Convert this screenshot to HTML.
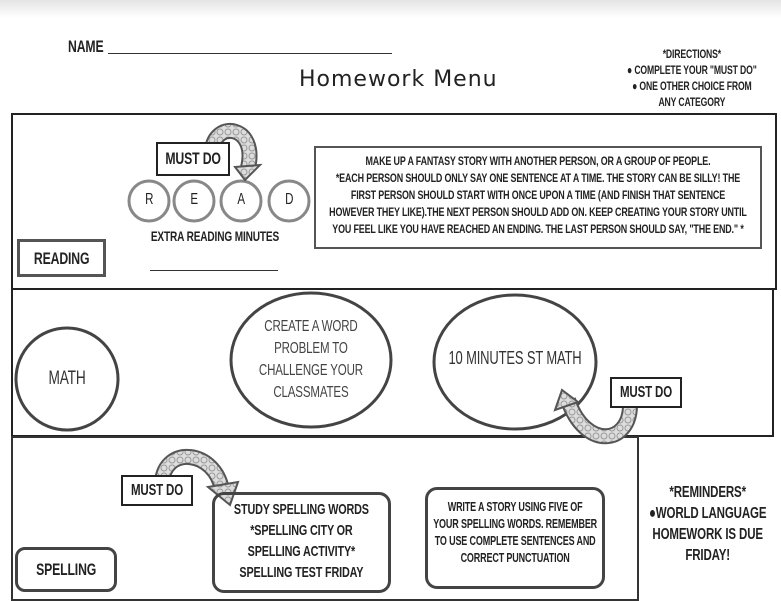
<!DOCTYPE html>
<html><head><meta charset="utf-8"><style>
body{margin:0;width:781px;height:601px;background:#fff;position:relative;overflow:hidden;font-family:"Liberation Sans",sans-serif;color:#222}
.a{position:absolute}
.t{position:absolute;text-align:center;font-weight:bold;text-transform:uppercase;letter-spacing:-0.2px;transform-origin:left top;transform:scaleX(0.72)}
.box{position:absolute;box-sizing:border-box}
</style></head><body>
<div class="a" style="left:0;top:0;width:781px;height:18px;background:linear-gradient(#e4e4e4,#fff)"></div>
<div class="t" style="left:68px;top:37px;font-size:17px;text-align:left">NAME</div>
<div class="a" style="left:108px;top:53px;width:284px;border-top:1px solid #333"></div>
<div class="a" style="left:299px;top:67px;font-family:'DejaVu Sans','Liberation Sans',sans-serif;font-size:22px;letter-spacing:1px;color:#222">Homework Menu</div>
<div class="t" style="left:622px;top:46px;width:194px;font-size:12px;line-height:16px">*DIRECTIONS*<br>● COMPLETE YOUR "MUST DO"<br>● ONE OTHER CHOICE FROM<br>ANY CATEGORY</div>

<div class="box" style="left:11px;top:113px;width:766px;height:177px;border:2px solid #222"></div>
<div class="box" style="left:11px;top:288px;width:763px;height:149px;border:2px solid #222"></div>
<div class="box" style="left:11px;top:436px;width:628px;height:165px;border:2px solid #333"></div>

<svg class="a" style="left:0;top:0" width="781" height="601">
<defs><pattern id="p" width="8" height="8" patternUnits="userSpaceOnUse"><rect width="8" height="8" fill="#ddd"/><circle cx="4" cy="4" r="3" fill="none" stroke="#999" stroke-width="1"/></pattern></defs>
<g fill="#fff" stroke="#888" stroke-width="3">
<circle cx="149" cy="201" r="20"/><circle cx="194" cy="201" r="20"/><circle cx="241" cy="201" r="20"/><circle cx="289" cy="201" r="20"/>
</g>
<g fill="#fff" stroke="#444" stroke-width="3">
<ellipse cx="67" cy="379" rx="51" ry="51"/>
<ellipse cx="311" cy="360" rx="80" ry="67"/>
<ellipse cx="515" cy="362" rx="81" ry="67"/>
</g>
<g fill="none">
<path d="M212 150 C215 120 258 125 248 168" stroke="#555" stroke-width="16"/>
<path d="M212 150 C215 120 258 125 248 168" stroke="url(#p)" stroke-width="12"/>
<path d="M568 400 C585 450 630 445 630 405" stroke="#555" stroke-width="16"/>
<path d="M568 400 C585 450 630 445 630 405" stroke="url(#p)" stroke-width="12"/>
<path d="M162 482 C165 445 215 450 222 490" stroke="#555" stroke-width="16"/>
<path d="M162 482 C165 445 215 450 222 490" stroke="url(#p)" stroke-width="12"/>
</g>
<g fill="url(#p)" stroke="#555" stroke-width="2">
<polygon points="235,167 260,165 245,180"/>
<polygon points="555,410 562,390 578,402"/>
<polygon points="208,487 238,482 230,505"/>
</g>
</svg>

<div class="box" style="left:156px;top:142px;width:74px;height:34px;border:2px solid #222;background:#fff"></div>
<div class="t" style="left:156px;top:149px;width:103px;font-size:17px">MUST DO</div>
<div class="t" style="left:129px;top:191px;width:56px;font-size:16px;font-weight:normal">R</div>
<div class="t" style="left:174px;top:191px;width:56px;font-size:16px;font-weight:normal">E</div>
<div class="t" style="left:221px;top:191px;width:56px;font-size:16px;font-weight:normal">A</div>
<div class="t" style="left:269px;top:191px;width:56px;font-size:16px;font-weight:normal">D</div>
<div class="t" style="left:130px;top:228px;width:236px;font-size:14px">EXTRA READING MINUTES</div>
<div class="a" style="left:150px;top:270px;width:128px;border-top:1px solid #333"></div>
<div class="box" style="left:17px;top:239px;width:89px;height:38px;border:3px solid #555"></div>
<div class="t" style="left:17px;top:249px;width:124px;font-size:17px">READING</div>
<div class="box" style="left:314px;top:146px;width:448px;height:103px;border:2px solid #555"></div>
<div class="t" style="left:318px;top:153px;width:611px;font-size:12.4px;line-height:17px">MAKE UP A FANTASY STORY WITH ANOTHER PERSON, OR A GROUP OF PEOPLE.<br>*EACH PERSON SHOULD ONLY SAY ONE SENTENCE AT A TIME. THE STORY CAN BE SILLY! THE<br>FIRST PERSON SHOULD START WITH ONCE UPON A TIME (AND FINISH THAT SENTENCE<br>HOWEVER THEY LIKE).THE NEXT PERSON SHOULD ADD ON. KEEP CREATING YOUR STORY UNTIL<br>YOU FEEL LIKE YOU HAVE REACHED AN ENDING. THE LAST PERSON SHOULD SAY, "THE END." *</div>

<div class="t" style="left:17px;top:368px;width:139px;font-size:19px;font-weight:normal;color:#333">MATH</div>
<div class="t" style="left:240px;top:316px;width:197px;font-size:16px;line-height:22px;font-weight:normal;color:#444">CREATE A WORD<br>PROBLEM TO<br>CHALLENGE YOUR<br>CLASSMATES</div>
<div class="t" style="left:434px;top:348px;width:225px;font-size:18px;font-weight:normal;color:#333">10 MINUTES ST MATH</div>
<div class="box" style="left:610px;top:377px;width:72px;height:31px;border:2px solid #222;background:#fff"></div>
<div class="t" style="left:610px;top:384px;width:100px;font-size:16px">MUST DO</div>

<div class="box" style="left:121px;top:475px;width:72px;height:31px;border:2px solid #222;background:#fff"></div>
<div class="t" style="left:121px;top:482px;width:100px;font-size:16px">MUST DO</div>
<div class="box" style="left:212px;top:492px;width:179px;height:101px;border:3px solid #444;border-radius:12px"></div>
<div class="t" style="left:215px;top:499px;width:240px;font-size:15px;line-height:21px">STUDY SPELLING WORDS<br>*SPELLING CITY OR<br>SPELLING ACTIVITY*<br>SPELLING TEST FRIDAY</div>
<div class="box" style="left:425px;top:487px;width:180px;height:102px;border:3px solid #444;border-radius:12px"></div>
<div class="t" style="left:428px;top:499px;width:242px;font-size:12.5px;line-height:17px">WRITE A STORY USING FIVE OF<br>YOUR SPELLING WORDS. REMEMBER<br>TO USE COMPLETE SENTENCES AND<br>CORRECT PUNCTUATION</div>
<div class="box" style="left:15px;top:547px;width:102px;height:45px;border:3px solid #444;border-radius:10px"></div>
<div class="t" style="left:15px;top:560px;width:142px;font-size:17px">SPELLING</div>
<div class="t" style="left:640px;top:482px;width:188px;font-size:16px;line-height:21px">*REMINDERS*<br>●WORLD LANGUAGE<br>HOMEWORK IS DUE<br>FRIDAY!</div>
</body></html>
